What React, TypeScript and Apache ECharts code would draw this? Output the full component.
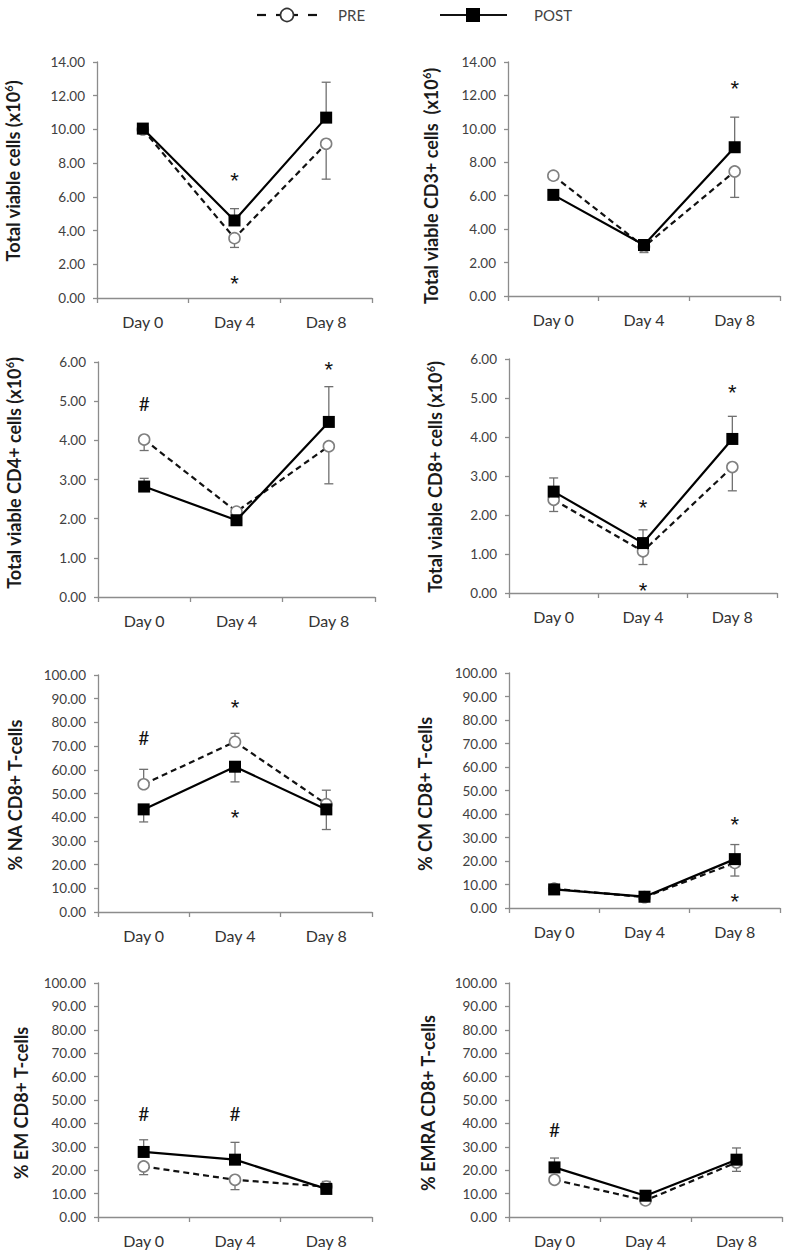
import React, { useEffect, useRef } from "react";
import * as echarts from "echarts";

// ---------- data ----------
const days = ["Day 0", "Day 4", "Day 8"];

// Total viable cells (x10^6)
const totalPre = [10.0, 3.55, 9.15];
const totalPost = [10.05, 4.6, 10.7];
const totalPreErr = [null, 3.0, 7.05];
const totalPostErr = [null, 5.3, 12.8];
const totalMarks: [number, number, string][] = [[1, 7.3, "*"], [1, 1.2, "*"]];

// CD3+
const cd3Pre = [7.2, 2.95, 7.45];
const cd3Post = [6.05, 3.05, 8.9];
const cd3PreErr = [null, 2.6, 5.9];
const cd3PostErr = [null, null, 10.7];
const cd3Marks: [number, number, string][] = [[2, 12.8, "*"]];

// CD4+
const cd4Pre = [4.02, 2.18, 3.85];
const cd4Post = [2.82, 1.96, 4.47];
const cd4PreErr = [3.74, null, 2.89];
const cd4PostErr = [3.03, null, 5.37];
const cd4Marks: [number, number, string][] = [[0, 4.95, "#"], [2, 5.95, "*"]];

// CD8+
const cd8Pre = [2.39, 1.07, 3.23];
const cd8Post = [2.6, 1.28, 3.95];
const cd8PreErr = [2.09, 0.73, 2.62];
const cd8PostErr = [2.95, 1.62, 4.53];
const cd8Marks: [number, number, string][] = [[1, 2.35, "*"], [1, 0.21, "*"], [2, 5.3, "*"]];

// % NA CD8+
const naPre = [53.9, 71.8, 45.5];
const naPost = [43.3, 61.3, 43.3];
const naPreErr = [60.2, 75.4, 51.4];
const naPostErr = [38.0, 54.9, 34.8];
const naMarks: [number, number, string][] = [[0, 73.7, "#"], [1, 89, "*"], [1, 42.2, "*"]];

// % CM CD8+
const cmPre = [8.2, 4.6, 19.2];
const cmPost = [7.9, 4.8, 20.8];
const cmPreErr = [null, null, 13.6];
const cmPostErr = [null, null, 27.0];
const cmMarks: [number, number, string][] = [[2, 37.9, "*"], [2, 5.2, "*"]];

// % EM CD8+
const emPre = [21.6, 15.9, 13.0];
const emPost = [27.8, 24.5, 12.0];
const emPreErr = [18.1, 11.7, 15.2];
const emPostErr = [33.0, 31.9, null];
const emMarks: [number, number, string][] = [[0, 44.4, "#"], [1, 44.4, "#"]];

// % EMRA CD8+
const emraPre = [15.9, 7.1, 23.3];
const emraPost = [21.2, 9.1, 24.5];
const emraPreErr = [null, null, 19.5];
const emraPostErr = [25.2, null, 29.5];
const emraMarks: [number, number, string][] = [[0, 37.3, "#"]];

const yMaxes = [14, 14, 6, 6, 100, 100, 100, 100];
const yIntervals = [2, 2, 1, 1, 10, 10, 10, 10];

const titles = [
  "Total viable cells (x10{sup|6})",
  "Total viable CD3+ cells  (x10{sup|6})",
  "Total viable CD4+ cells (x10{sup|6})",
  "Total viable CD8+ cells (x10{sup|6})",
  "% NA CD8+ T-cells",
  "% CM CD8+ T-cells",
  "% EM CD8+ T-cells",
  "% EMRA CD8+ T-cells",
];

const panels = [
  [totalPre, totalPost, totalPreErr, totalPostErr, totalMarks],
  [cd3Pre, cd3Post, cd3PreErr, cd3PostErr, cd3Marks],
  [cd4Pre, cd4Post, cd4PreErr, cd4PostErr, cd4Marks],
  [cd8Pre, cd8Post, cd8PreErr, cd8PostErr, cd8Marks],
  [naPre, naPost, naPreErr, naPostErr, naMarks],
  [cmPre, cmPost, cmPreErr, cmPostErr, cmMarks],
  [emPre, emPost, emPreErr, emPostErr, emMarks],
  [emraPre, emraPost, emraPreErr, emraPostErr, emraMarks],
] as any[];

// ---------- layout ----------
const grids = [
  { left: 97, top: 62, width: 275, height: 236 },
  { left: 508, top: 62, width: 272, height: 234 },
  { left: 98, top: 362, width: 277, height: 235 },
  { left: 509, top: 359, width: 268, height: 234 },
  { left: 98, top: 675, width: 274, height: 237 },
  { left: 509, top: 673, width: 271, height: 235 },
  { left: 98, top: 983, width: 274, height: 234 },
  { left: 509, top: 983, width: 273, height: 234 },
];
const titlePos = [
  [13, 171], [431, 186], [14, 473], [435, 477],
  [15, 795], [425, 794], [21, 1103], [428, 1103],
];

const FONT = "Lato, 'Open Sans', sans-serif";
const AXIS = "#8c8c8c";

export default function App() {
  const ref = useRef<HTMLDivElement>(null);
  useEffect(() => {
    if (!ref.current) return;
    const chart = echarts.init(ref.current, undefined, { renderer: "svg" });

    const xAxis: any[] = [];
    const yAxis: any[] = [];
    const series: any[] = [];
    const graphic: any[] = [];

    panels.forEach((p, i) => {
      const [pre, post, preErr, postErr, marks] = p;
      xAxis.push({
        type: "category",
        gridIndex: i,
        data: days,
        boundaryGap: true,
        axisLine: { lineStyle: { color: AXIS, width: 1.3 } },
        axisTick: { show: true, length: 5, lineStyle: { color: AXIS, width: 1.3 } },
        axisLabel: { color: "#333", fontSize: 16, fontFamily: FONT, margin: 15 },
        splitLine: { show: false },
      });
      yAxis.push({
        type: "value",
        gridIndex: i,
        min: 0,
        max: yMaxes[i],
        interval: yIntervals[i],
        axisLine: { show: true, lineStyle: { color: AXIS, width: 1.3 } },
        axisTick: { show: true, length: 4, lineStyle: { color: AXIS, width: 1.3 } },
        axisLabel: {
          color: "#404040",
          fontSize: 13.5,
          fontFamily: FONT,
          margin: 12,
          formatter: (v: number) => v.toFixed(2),
        },
        splitLine: { show: false },
      });

      const errData = (main: number[], ends: (number | null)[]) =>
        ends
          .map((e, k) => (e == null ? null : [k, main[k], e]))
          .filter((d) => d != null);

      const errRender = (params: any, api: any) => {
        const a = api.coord([api.value(0), api.value(1)]);
        const b = api.coord([api.value(0), api.value(2)]);
        const st = { stroke: "#707070", lineWidth: 1.3 };
        return {
          type: "group",
          children: [
            { type: "line", shape: { x1: a[0], y1: a[1], x2: a[0], y2: b[1] }, style: st },
            { type: "line", shape: { x1: a[0] - 4.5, y1: b[1], x2: a[0] + 4.5, y2: b[1] }, style: st },
          ],
        };
      };

      series.push({
        type: "custom",
        name: "err-pre-" + i,
        xAxisIndex: i,
        yAxisIndex: i,
        data: errData(pre, preErr),
        renderItem: errRender,
        z: 1,
        silent: true,
      });
      series.push({
        type: "custom",
        name: "err-post-" + i,
        xAxisIndex: i,
        yAxisIndex: i,
        data: errData(post, postErr),
        renderItem: errRender,
        z: 1,
        silent: true,
      });
      series.push({
        type: "line",
        name: "PRE",
        xAxisIndex: i,
        yAxisIndex: i,
        data: pre,
        symbol: "circle",
        symbolSize: 11,
        lineStyle: { color: "#111", width: 2.2, type: [6, 4] },
        itemStyle: { color: "#fff", borderColor: "#808080", borderWidth: 1.6 },
        z: 3,
      });
      series.push({
        type: "line",
        name: "POST",
        xAxisIndex: i,
        yAxisIndex: i,
        data: post,
        symbol: "rect",
        symbolSize: 12,
        lineStyle: { color: "#000", width: 2.2 },
        itemStyle: { color: "#000" },
        z: 4,
      });
      series.push({
        type: "custom",
        name: "marks-" + i,
        xAxisIndex: i,
        yAxisIndex: i,
        data: marks.map((m: any) => [m[0], m[1]]),
        renderItem: (params: any, api: any) => {
          const c = api.coord([api.value(0), api.value(1)]);
          const txt = marks[params.dataIndex][2];
          const star = txt === "*";
          return {
            type: "text",
            x: c[0],
            y: c[1] + (star ? 6 : 0),
            style: {
              text: txt,
              fill: "#111",
              fontSize: star ? 22 : 19,
              fontFamily: star ? "'Liberation Sans', Arial, sans-serif" : FONT,
              align: "center",
              verticalAlign: "middle",
            },
          };
        },
        z: 5,
        silent: true,
      });

      graphic.push({
        type: "text",
        x: titlePos[i][0],
        y: titlePos[i][1],
        rotation: Math.PI / 2,
        style: {
          text: titles[i],
          fill: "#1a1a1a",
          fontSize: 18,
          fontWeight: "bold",
          fontFamily: FONT,
          align: "center",
          verticalAlign: "middle",
          rich: {
            sup: {
              fontSize: 11,
              fontWeight: "bold",
              fontFamily: FONT,
              fill: "#1a1a1a",
              verticalAlign: "top",
              lineHeight: 20,
            },
          },
        },
      });
    });

    // legend
    const ls = { stroke: "#111", lineWidth: 2.2 };
    graphic.push(
      { type: "line", shape: { x1: 257, y1: 15, x2: 266, y2: 15 }, style: ls },
      { type: "line", shape: { x1: 276, y1: 15, x2: 298, y2: 15 }, style: ls },
      { type: "line", shape: { x1: 308, y1: 15, x2: 317, y2: 15 }, style: ls },
      { type: "circle", shape: { cx: 287, cy: 15, r: 6.5 }, style: { fill: "#fff", stroke: "#333", lineWidth: 1.6 } },
      { type: "text", x: 338, y: 15, style: { text: "PRE", fill: "#444", fontSize: 15, fontFamily: FONT, verticalAlign: "middle" } },
      { type: "line", shape: { x1: 440, y1: 15, x2: 507, y2: 15 }, style: ls },
      { type: "rect", shape: { x: 466, y: 8, width: 14, height: 14 }, style: { fill: "#000" } },
      { type: "text", x: 534, y: 15, style: { text: "POST", fill: "#444", fontSize: 15, fontFamily: FONT, verticalAlign: "middle" } }
    );

    chart.setOption({
      animation: false,
      backgroundColor: "#fff",
      grid: grids.map((g) => ({ ...g, containLabel: false })),
      xAxis,
      yAxis,
      series,
      graphic,
    });
    return () => chart.dispose();
  }, []);

  return (
    <div
      ref={ref}
      style={{ position: "absolute", left: 0, top: 0, width: 787, height: 1255, background: "#fff" }}
    />
  );
}
